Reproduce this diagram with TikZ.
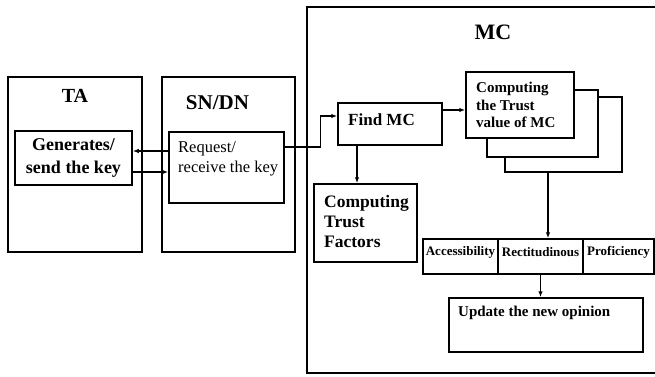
\documentclass[tikz,border=0pt]{standalone}
\usepackage{fontspec}
\setmainfont{Liberation Serif}
\usetikzlibrary{arrows.meta}
\tikzset{
    box/.style={draw, line width=1.5pt, inner sep=0pt, fill=white},
    txt/.style={anchor=north west, align=left, inner sep=0pt},
    arr/.style={-{Latex[length=6pt,width=4.5pt]}, line width=1.2pt},
}
\begin{document}
\begin{tikzpicture}[x=1pt,y=-1pt]
        \clip (0,0) rectangle (655,376);
        % outer boxes
            \node[box, minimum width=134, minimum height=175] (ta) at (75,164.5) {};
            \node[box, minimum width=133, minimum height=175] (sn) at (228.5,164.5) {};
            \node[box, minimum width=393, minimum height=366] (mc) at (503.5,190) {};
            \node[font=\bfseries\fontsize{20}{24}\selectfont] (tatitle) at (75,96) {TA};
            \node[font=\bfseries\fontsize{21}{24}\selectfont] (sntitle) at (217.5,103) {SN/DN};
            \node[font=\bfseries\fontsize{22}{24}\selectfont] (mctitle) at (493,32) {MC};
        % key exchange
            \node[box, minimum width=117, minimum height=54, align=center,
                font=\bfseries\fontsize{18}{23}\selectfont] (gen) at (73.5,158) {Generates/\\send the key};
            \node[box, minimum width=115, minimum height=71] (req) at (226.5,167.5) {};
            \node[txt, font=\fontsize{16.5}{20}\selectfont] (reqtext) at (178,141) {Request/\\receive the key};
            \draw[arr] ([yshift=7pt]gen.east -| req.west) -- ([yshift=7pt]gen.east);
            \draw[arr] ([yshift=-14pt]gen.east) -- ([yshift=-14pt]gen.east -| req.west);
        % trust computation
            \node[box, minimum width=104, minimum height=42] (find) at (390,124) {};
            \node[txt, font=\bfseries\fontsize{17}{20}\selectfont] (findtext) at (348,113) {Find MC};
            \foreach \n/\x/\y/\w/\h in {comp3/563.5/134.5/117/75, comp2/542.5/123.5/111/67, comp1/520/105/108/66}{
                \node[box, minimum width=\w, minimum height=\h] (\n) at (\x,\y) {};
            }
            \node[txt, font=\bfseries\fontsize{15}{17.5}\selectfont] (comptext) at (476,82) {Computing\\the Trust\\value of MC};
            \node[box, minimum width=103, minimum height=78] (ctf) at (365.5,223) {};
            \node[txt, font=\bfseries\fontsize{17.5}{20}\selectfont] (ctftext) at (324,195) {Computing\\Trust\\Factors};
            \foreach \n/\x/\w/\t in {acc/460.5/75/Accessibility, rec/540.5/85/Rectitudinous, prof/618.5/71/Proficiency}{
                \node[box, minimum width=\w, minimum height=35] (\n) at (\x,256.5) {};
                \node[font=\bfseries\fontsize{13}{15}\selectfont, inner sep=0pt] (\n text) at (\x,252) {\t};
            }
            \node[box, minimum width=194, minimum height=54] (upd) at (546,325) {};
            \node[txt, font=\bfseries\fontsize{15}{17}\selectfont] (updtext) at (458,306) {Update the new opinion};
        % connectors
            \draw[arr] ([yshift=20.5pt]req.east) -- ++(36,0) |- ([yshift=8pt]find.west);
            \draw[arr] ([yshift=14pt]find.east) -- ([yshift=14pt]find.east -| comp1.west);
            \draw[arr] ([xshift=-33pt]find.south) -- ([xshift=-33pt]find.south |- ctf.north);
            \draw[arr] ([xshift=-15.5pt]comp3.south) -- ([xshift=-15.5pt]comp3.south |- rec.north);
            \draw[arr] (rec.south) -- (rec.south |- upd.north);
\end{tikzpicture}
\end{document}
